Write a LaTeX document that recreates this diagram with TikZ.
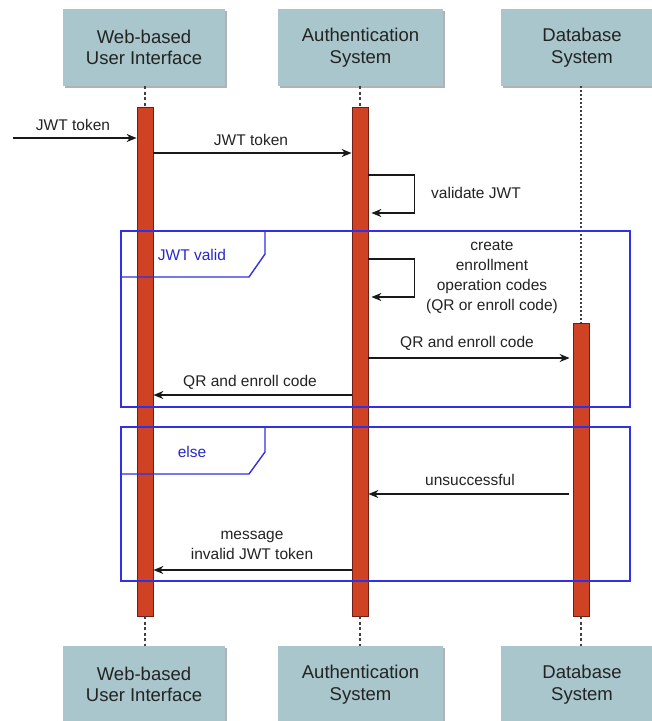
\documentclass[tikz,border=0pt]{standalone}
\usepackage{fontspec}
\setmainfont{Liberation Sans}
\usetikzlibrary{arrows.meta,shadows}
\definecolor{boxfill}{RGB}{168,198,203}
\definecolor{barfill}{RGB}{207,66,36}
\definecolor{barline}{RGB}{110,30,20}
\definecolor{frameblue}{RGB}{48,48,228}
\definecolor{labelblue}{RGB}{40,40,205}
\definecolor{wire}{RGB}{25,25,25}
\definecolor{ink}{RGB}{35,35,35}

\begin{document}
\begin{tikzpicture}[x=1pt,y=-1pt,
  actor/.style={fill=boxfill, minimum width=162pt, minimum height=77pt,
    align=center, inner sep=0pt, text=ink,
    font=\fontsize{18.5}{21.5}\selectfont,
    drop shadow={shadow xshift=2pt,shadow yshift=-2pt,fill=black!30,opacity=1}},
  lifeline/.style={draw=black!75, line width=1.2pt, dash pattern=on 3pt off 2.5pt},
  dbline/.style={draw=black!75, line width=1.2pt, dash pattern=on 2pt off 2pt},
  bar/.style={draw=barline, fill=barfill, line width=0.8pt,
    minimum width=16pt, inner sep=0pt},
  msg/.style={draw=wire, line width=1.2pt, -{Stealth[length=10pt,width=8pt]}},
  lbl/.style={font=\fontsize{15.5}{20}\selectfont, text=ink, align=center, inner sep=0pt},
  frame/.style={draw=frameblue, line width=1.4pt},
  flabel/.style={font=\fontsize{15.5}{18}\selectfont, text=labelblue, inner sep=0pt}]

\clip (0,0) rectangle (652,721);
\fill[white] (0,0) rectangle (652,721);

% participants, top and bottom
\node[actor] (uiTop)   at (144,47.5)  {Web-based\\User Interface};
\node[actor, minimum width=165pt] (authTop) at (360.5,47.5) {Authentication\\System};
\node[actor] (dbTop)   at (582,47.5)  {Database\\System};
\node[actor] (uiBot)   at (144,684.5) {Web-based\\User Interface};
\node[actor, minimum width=165pt] (authBot) at (360.5,684.5) {Authentication\\System};
\node[actor] (dbBot)   at (582,684.5) {Database\\System};

% activation bars
\node[bar, minimum height=509pt] (ui)   at (145,361.5) {};
\node[bar, minimum height=509pt] (auth) at (360,361.5) {};
\node[bar, minimum height=293pt] (db)   at (581,469.5) {};

% lifelines
\draw[lifeline] (uiTop.south -| ui.north) -- (ui.north);
\draw[lifeline] (authTop.south -| auth.north) -- (auth.north);
\draw[dbline]   (dbTop.south -| db.north) -- (db.north);
\draw[lifeline] (ui.south) -- (uiBot.north -| ui.south);
\draw[lifeline] (auth.south) -- (authBot.north -| auth.south);
\draw[lifeline] (db.south) -- (dbBot.north -| db.south);

% message rows
\coordinate (src) at (13,138);
\coordinate (r1) at (0,153);
\coordinate (v1) at (0,175);
\coordinate (v2) at (0,213);
\coordinate (c1) at (0,259);
\coordinate (c2) at (0,297);
\coordinate (r2) at (0,358);
\coordinate (r3) at (0,395);
\coordinate (r4) at (0,494);
\coordinate (r5) at (0,570);

% incoming token
\draw[msg] (src) -- (ui.west |- src);
\node[lbl] (lTok0) at (73,125) {JWT token};

\draw[msg] (ui.east |- r1) -- (auth.west |- r1);
\node[lbl] (lTok1) at (251,140) {JWT token};

% validate JWT (self call)
\draw[msg] (auth.east |- v1) -- ++(46,0) -- ++(0,38) -- ([xshift=3pt]auth.east |- v2);
\node[lbl, anchor=west] (lVal) at (431,193) {validate JWT};

% alternative: JWT valid
\draw[frame] (121,231) rectangle (630,407);
\draw[frame] (265,231) -- (265,254) -- (249,277) -- (121,277);
\node[flabel] (fValid) at (192,255) {JWT valid};

\draw[msg] (auth.east |- c1) -- ++(46,0) -- ++(0,38) -- ([xshift=3pt]auth.east |- c2);
\node[lbl] (lCreate) at (492,277) {create\\enrollment\\operation codes\\(QR or enroll code)};

\draw[msg] (auth.east |- r2) -- ([xshift=-3pt]db.west |- r2);
\node[lbl] (lQr1) at (467,343) {QR and enroll code};

\draw[msg] (auth.west |- r3) -- (ui.east |- r3);
\node[lbl] (lQr2) at (250,382) {QR and enroll code};

% alternative: else
\draw[frame] (121,427) rectangle (630,581);
\draw[frame] (265,427) -- (265,452) -- (249,474) -- (121,474);
\node[flabel] (fElse) at (192,452) {else};

\draw[msg] ([xshift=-4pt]db.west |- r4) -- (auth.east |- r4);
\node[lbl] (lFail) at (470,480) {unsuccessful};

\draw[msg] (auth.west |- r5) -- (ui.east |- r5);
\node[lbl] (lMsg) at (252,545) {message\\invalid JWT token};
\end{tikzpicture}
\end{document}
